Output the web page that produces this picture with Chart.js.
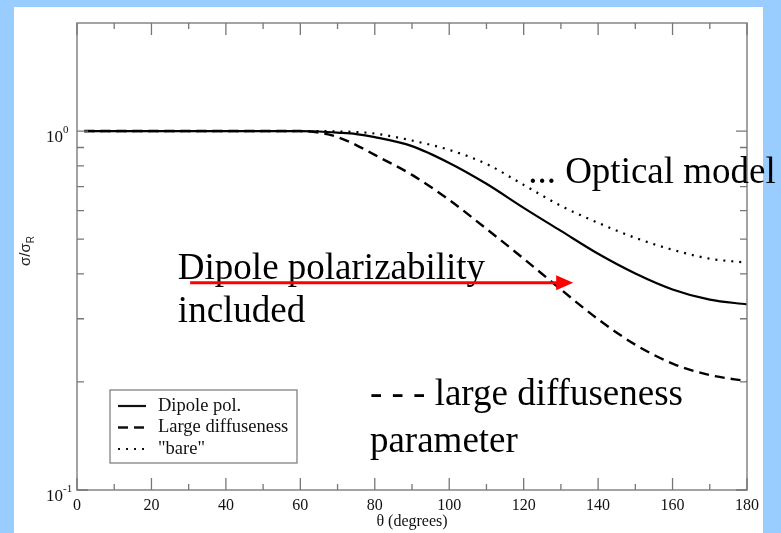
<!DOCTYPE html>
<html>
<head>
<meta charset="utf-8">
<script src="https://cdn.jsdelivr.net/npm/chart.js@4.4.0/dist/chart.umd.min.js"></script>
<style>
  html, body { margin: 0; padding: 0; background: #99ccff; }
  canvas { display: block; }
</style>
</head>
<body>
<canvas id="chart" width="781" height="533"></canvas>
<script>
// scattering angle (degrees) and sigma/sigma_R
const theta = [2, 10, 20, 30, 40, 50, 60, 65, 70, 75, 80, 90, 100, 110, 120, 130, 140, 150, 160, 170, 180];
const dipolePol = [1, 1, 1, 1, 1, 1, 1, 0.997, 0.99, 0.981, 0.962, 0.908, 0.815, 0.713, 0.611, 0.527, 0.455, 0.401, 0.362, 0.339, 0.329];
const largeDiff = [1, 1, 1, 1, 1, 1, 1, 0.99, 0.962, 0.914, 0.858, 0.755, 0.643, 0.534, 0.441, 0.362, 0.299, 0.254, 0.225, 0.209, 0.201];
const bare = [1, 1, 1, 1, 1, 1, 1, 1, 0.997, 0.994, 0.984, 0.941, 0.886, 0.81, 0.708, 0.619, 0.555, 0.504, 0.467, 0.441, 0.43];

const xMajorTicks = [0, 20, 40, 60, 80, 100, 120, 140, 160, 180];
const xMinorTicks = [10, 30, 50, 70, 90, 110, 130, 150, 170];
const yMajorTicks = [0.1, 1];
const yMinorTicks = [0.2, 0.3, 0.4, 0.5, 0.6, 0.7, 0.8, 0.9];
const yTickLabels = [['10', '-1'], ['10', '0']];

// slide annotations, placed in data coordinates
const notes = [
  { text: 'Dipole polarizability', x: 27.1, y: 0.386 },
  { text: 'included', x: 27.1, y: 0.293 },
  { text: '... Optical model', x: 121.2, y: 0.717 },
  { text: '- - - large diffuseness', x: 78.7, y: 0.172 },
  { text: 'parameter', x: 78.7, y: 0.128 }
];
const arrowFrom = { x: 30.4, y: 0.378 };
const arrowTo = { x: 133.3, y: 0.378 };

const SERIF = '"Liberation Serif", "Times New Roman", serif';

function toPoints(vals) {
  return theta.map((t, i) => ({ x: t, y: vals[i] }));
}

const decorPlugin = {
  id: 'decor',
  beforeDraw(chart) {
    const ctx = chart.ctx;
    ctx.save();
    ctx.fillStyle = '#99ccff';
    ctx.fillRect(0, 0, chart.width, chart.height);
    ctx.fillStyle = '#ffffff';
    ctx.fillRect(14, 7, 749, chart.height - 7);
    ctx.restore();
  },
  afterDatasetsDraw(chart) {
    const ctx = chart.ctx;
    const ca = chart.chartArea;
    const xs = chart.scales.x, ys = chart.scales.y;
    ctx.save();

    // frame
    ctx.strokeStyle = '#858585';
    ctx.lineWidth = 1.5;
    ctx.strokeRect(ca.left, ca.top, ca.right - ca.left, ca.bottom - ca.top);

    // inward ticks on all four sides
    ctx.strokeStyle = '#777';
    ctx.lineWidth = 1.3;
    const tickX = (v, len) => {
      const px = xs.getPixelForValue(v);
      ctx.beginPath();
      ctx.moveTo(px, ca.bottom); ctx.lineTo(px, ca.bottom - len);
      ctx.moveTo(px, ca.top); ctx.lineTo(px, ca.top + len);
      ctx.stroke();
    };
    const tickY = (v, len) => {
      const py = ys.getPixelForValue(v);
      ctx.beginPath();
      ctx.moveTo(ca.left, py); ctx.lineTo(ca.left + len, py);
      ctx.moveTo(ca.right, py); ctx.lineTo(ca.right - len, py);
      ctx.stroke();
    };
    xMajorTicks.forEach(v => tickX(v, 12));
    xMinorTicks.forEach(v => tickX(v, 6));
    yMajorTicks.forEach(v => tickY(v, 11));
    yMinorTicks.forEach(v => tickY(v, 7));

    // y tick labels with superscript exponents
    ctx.fillStyle = '#111';
    yMajorTicks.forEach((v, i) => {
      const py = ys.getPixelForValue(v);
      const [base, exp] = yTickLabels[i];
      ctx.font = '17px ' + SERIF;
      ctx.textAlign = 'right';
      ctx.textBaseline = 'alphabetic';
      ctx.fillText(base, ca.left - 14, py + 11);
      ctx.font = '11px ' + SERIF;
      ctx.textAlign = 'left';
      ctx.fillText(exp, ca.left - 14, py + 2);
    });

    // y axis title sigma/sigma_R
    ctx.save();
    ctx.translate(30, 266);
    ctx.rotate(-Math.PI / 2);
    ctx.font = '15px "Liberation Sans", Arial, sans-serif';
    ctx.textAlign = 'left';
    ctx.textBaseline = 'alphabetic';
    ctx.fillStyle = '#222';
    ctx.fillText('σ/σ', 0, 0);
    const w = ctx.measureText('σ/σ').width;
    ctx.font = '10px "Liberation Sans", Arial, sans-serif';
    ctx.fillText('R', w, 4);
    ctx.restore();

    // legend box
    const lx = ca.left + 33, ly = ca.bottom - 100;
    ctx.fillStyle = '#fff';
    ctx.fillRect(lx, ly, 187, 73);
    ctx.strokeStyle = '#777';
    ctx.lineWidth = 1.2;
    ctx.strokeRect(lx, ly, 187, 73);
    chart.data.datasets.forEach((ds, i) => {
      const ry = ly + 16 + i * 21.5;
      ctx.save();
      ctx.strokeStyle = '#111';
      ctx.lineWidth = ds.borderWidth;
      ctx.setLineDash(ds.borderDash || []);
      ctx.beginPath();
      ctx.moveTo(lx + 8, ry); ctx.lineTo(lx + 36, ry);
      ctx.stroke();
      ctx.restore();
      ctx.fillStyle = '#111';
      ctx.font = '18.5px ' + SERIF;
      ctx.textAlign = 'left';
      ctx.textBaseline = 'middle';
      ctx.fillText(ds.label, lx + 48, ry);
    });

    // big annotation text
    ctx.fillStyle = '#000';
    ctx.font = '37px ' + SERIF;
    ctx.textAlign = 'left';
    ctx.textBaseline = 'alphabetic';
    notes.forEach(n => {
      ctx.fillText(n.text, xs.getPixelForValue(n.x), ys.getPixelForValue(n.y));
    });

    // red arrow
    const ax0 = xs.getPixelForValue(arrowFrom.x), ay = ys.getPixelForValue(arrowFrom.y);
    const ax1 = xs.getPixelForValue(arrowTo.x);
    ctx.strokeStyle = '#ff0000';
    ctx.fillStyle = '#ff0000';
    ctx.lineWidth = 3;
    ctx.beginPath();
    ctx.moveTo(ax0, ay); ctx.lineTo(ax1 - 14, ay);
    ctx.stroke();
    ctx.beginPath();
    ctx.moveTo(ax1, ay);
    ctx.lineTo(ax1 - 17, ay - 7.5);
    ctx.lineTo(ax1 - 17, ay + 7.5);
    ctx.closePath();
    ctx.fill();

    ctx.restore();
  }
};

new Chart(document.getElementById('chart'), {
  type: 'line',
  data: {
    datasets: [
      { label: 'Dipole pol.', data: toPoints(dipolePol), borderColor: '#000', borderWidth: 2.2, borderDash: [] },
      { label: 'Large diffuseness', data: toPoints(largeDiff), borderColor: '#000', borderWidth: 2.4, borderDash: [10, 6] },
      { label: '"bare"', data: toPoints(bare), borderColor: '#000', borderWidth: 2.2, borderDash: [2, 6] }
    ]
  },
  options: {
    responsive: false,
    animation: false,
    layout: { padding: { left: 0, right: 34, top: 23, bottom: 0 } },
    elements: {
      point: { radius: 0 },
      line: { cubicInterpolationMode: 'monotone', fill: false }
    },
    plugins: { legend: { display: false }, tooltip: { enabled: false } },
    scales: {
      x: {
        type: 'linear',
        min: 0,
        max: 180,
        grid: { display: false },
        border: { display: false },
        ticks: { stepSize: 20, padding: -2, color: '#111', font: { family: SERIF, size: 16 } },
        title: {
          display: true,
          text: 'θ (degrees)',
          color: '#111',
          font: { family: SERIF, size: 16 },
          padding: { top: 0, bottom: 2 }
        },
        afterFit: s => { s.height = 43; }
      },
      y: {
        type: 'logarithmic',
        min: 0.1,
        max: 2,
        grid: { display: false },
        border: { display: false },
        ticks: { display: false },
        afterFit: s => { s.width = 77; }
      }
    }
  },
  plugins: [decorPlugin]
});
</script>
</body>
</html>
